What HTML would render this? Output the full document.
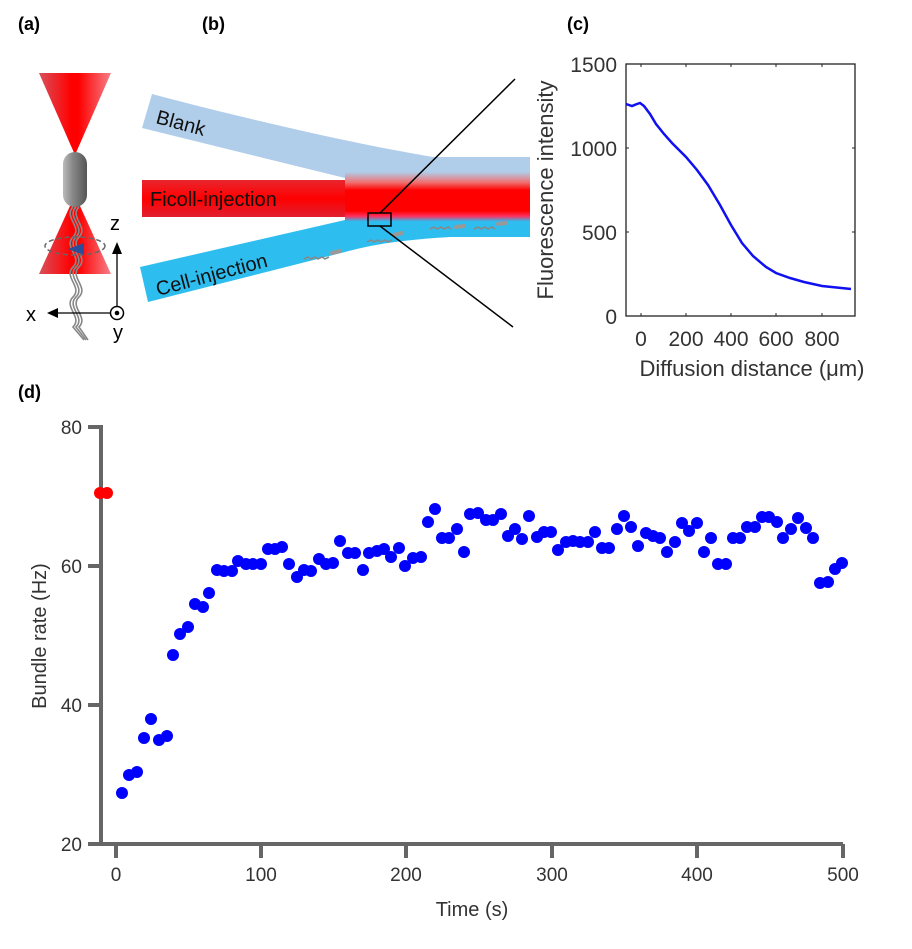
<!DOCTYPE html>
<html><head><meta charset="utf-8"><style>
html,body{margin:0;padding:0;background:#fff;}
svg{display:block;font-family:"Liberation Sans",Arial,sans-serif;}
</style></head><body>
<svg width="912" height="949" viewBox="0 0 912 949" xmlns="http://www.w3.org/2000/svg">
<defs>
<linearGradient id="beam" x1="0" x2="1" y1="0" y2="0">
<stop offset="0" stop-color="#d8505a"/><stop offset="0.45" stop-color="#ff0000"/><stop offset="0.55" stop-color="#ff0000"/><stop offset="1" stop-color="#f58088"/></linearGradient>
<linearGradient id="cap" x1="0" x2="1"><stop offset="0" stop-color="#bbb"/><stop offset="0.4" stop-color="#888"/><stop offset="1" stop-color="#555"/></linearGradient>
<linearGradient id="mix" x1="0" x2="0" y1="0" y2="1">
<stop offset="0" stop-color="#b0cde9"/><stop offset="0.2" stop-color="#f07070"/><stop offset="0.35" stop-color="#ff0000"/><stop offset="0.75" stop-color="#ff0000"/><stop offset="0.85" stop-color="#ff3060"/><stop offset="0.95" stop-color="#2ebdef"/><stop offset="1" stop-color="#2ebdef"/></linearGradient>
<linearGradient id="red" x1="0" x2="0" y1="0" y2="1"><stop offset="0" stop-color="#e8262e"/><stop offset="0.5" stop-color="#ff0000"/><stop offset="1" stop-color="#e02030"/></linearGradient>
</defs>
<g font-weight="bold" font-size="18" fill="#000">
<text x="18" y="30">(a)</text><text x="202" y="30">(b)</text><text x="567" y="30">(c)</text><text x="18" y="398">(d)</text>
</g>
<!-- panel a -->
<polygon points="39,73 111,73 75,155" fill="url(#beam)"/>
<polygon points="75,195 39,274 111,274" fill="url(#beam)"/>
<rect x="63" y="152" width="24" height="55" rx="12" fill="url(#cap)"/>
<g fill="none" stroke="#888" stroke-width="1.6">
<path d="M73,207 C63,217 83,227 73,237 C63,247 83,257 73,267 C63,277 83,287 73,297 C63,307 83,317 73,327 L84,340"/>
<path d="M76,207 C66,217 86,227 76,237 C66,247 86,257 76,267 C66,277 86,287 76,297 C66,307 86,317 76,327 L86,340"/>
<path d="M79,207 C69,217 89,227 79,237 C69,247 89,257 79,267 C69,277 89,287 79,297 C69,307 89,317 79,327 L88,340"/>
</g>
<ellipse cx="75" cy="246" rx="30" ry="9" fill="none" stroke="#666" stroke-width="1.5" stroke-dasharray="5,3"/>
<polygon points="68,249 84,243 84,255" fill="#2a4e9a"/>
<line x1="117" y1="314" x2="117" y2="252" stroke="#000" stroke-width="1.3"/>
<polygon points="117,242 112,254 122,254" fill="#000"/>
<line x1="117" y1="313" x2="56" y2="313" stroke="#000" stroke-width="1.3"/>
<polygon points="47,313 58,308 58,318" fill="#000"/>
<circle cx="117" cy="313" r="6.5" fill="#fff" stroke="#000" stroke-width="1.5"/>
<circle cx="117" cy="313" r="2.3" fill="#000"/>
<text x="110" y="230" font-size="20" fill="#000">z</text>
<text x="26" y="321" font-size="20" fill="#000">x</text>
<text x="113" y="339" font-size="20" fill="#000">y</text>
<!-- panel b -->
<path d="M152,94 C250,120 360,145 433,157 L530,157 L530,182 L345,178 L142,128 Z" fill="#b0cde9"/>
<path d="M140,267 L345,220 L530,218 L530,237 L450,237 C400,240 370,245 345,252 L148,302 Z" fill="#2ebdef"/>
<rect x="142" y="180" width="205" height="37" fill="url(#red)"/>
<rect x="345" y="172" width="185" height="52" fill="url(#mix)"/>
<g fill="none" stroke="#888" stroke-width="1.6">
<path d="M304,259 l4,-2 l3,2 l4,-2 l3,2 l4,-2 l3,2 l4,-2"/><path d="M367,242 l4,-2 l3,2 l4,-2 l3,2 l4,-2 l3,2 l4,-2"/>
<path d="M430,229 l4,-2 l3,2 l4,-2 l3,2 l4,-2 l3,2"/><path d="M474,229 l4,-2 l3,2 l4,-2 l3,2 l4,-2 l3,2"/>
</g>
<g stroke="#999" stroke-width="4" stroke-linecap="round"><line x1="332" y1="253" x2="340" y2="251"/><line x1="394" y1="235" x2="402" y2="233"/><line x1="456" y1="227" x2="464" y2="226"/><line x1="498" y1="224" x2="506" y2="223"/></g>
<text transform="translate(155,123) rotate(15)" font-size="20" fill="#111">Blank</text>
<text x="150" y="206" font-size="20" fill="#111">Ficoll-injection</text>
<text transform="translate(158,296) rotate(-15)" font-size="20" fill="#111">Cell-injection</text>
<rect x="368" y="213" width="23" height="13" fill="none" stroke="#000" stroke-width="1.5"/>
<line x1="380" y1="213" x2="515" y2="79" stroke="#000" stroke-width="1.5"/>
<line x1="380" y1="226" x2="513" y2="327" stroke="#000" stroke-width="1.5"/>
<!-- panel c -->
<rect x="626" y="64" width="229" height="252" fill="none" stroke="#222" stroke-width="1.3"/>
<g stroke="#222" stroke-width="1">
<line x1="641" y1="316" x2="641" y2="313"/><line x1="686" y1="316" x2="686" y2="313"/><line x1="731" y1="316" x2="731" y2="313"/><line x1="776" y1="316" x2="776" y2="313"/><line x1="822" y1="316" x2="822" y2="313"/>
<line x1="641" y1="64" x2="641" y2="67"/><line x1="686" y1="64" x2="686" y2="67"/><line x1="731" y1="64" x2="731" y2="67"/><line x1="776" y1="64" x2="776" y2="67"/><line x1="822" y1="64" x2="822" y2="67"/>
<line x1="626" y1="148" x2="629" y2="148"/><line x1="626" y1="232" x2="629" y2="232"/><line x1="855" y1="148" x2="852" y2="148"/><line x1="855" y1="232" x2="852" y2="232"/>
</g>
<g font-size="21" fill="#333" text-anchor="end">
<text x="617" y="72">1500</text><text x="617" y="156">1000</text><text x="617" y="240">500</text><text x="617" y="324">0</text>
</g>
<g font-size="21" fill="#333" text-anchor="middle">
<text x="641" y="346">0</text><text x="686" y="346">200</text><text x="731" y="346">400</text><text x="776" y="346">600</text><text x="822" y="346">800</text>
</g>
<text x="752" y="376" font-size="22" fill="#333" text-anchor="middle">Diffusion distance (μm)</text>
<text transform="translate(553,190) rotate(-90)" font-size="22" fill="#333" text-anchor="middle">Fluorescence intensity</text>
<polyline fill="none" stroke="#1010f0" stroke-width="2.5" points="626,104 632,106 637,104 640,103 644,106 650,114 656,124 664,134 672,143 686,157 697,170 708,185 720,205 731,225 742,243 753,256 766,267 776,273 790,278 804,282 822,286 851,289"/>
<!-- panel d -->
<g stroke="#666" stroke-width="4" fill="none">
<polyline points="88,427 101,427 101,844 88,844"/>
<line x1="101" y1="844" x2="843" y2="844"/>
<line x1="88" y1="566" x2="101" y2="566"/><line x1="88" y1="705" x2="101" y2="705"/>
<line x1="116" y1="844" x2="116" y2="858"/><line x1="261" y1="844" x2="261" y2="858"/><line x1="406" y1="844" x2="406" y2="858"/><line x1="552" y1="844" x2="552" y2="858"/><line x1="697" y1="844" x2="697" y2="858"/><line x1="843" y1="844" x2="843" y2="858"/>
</g>
<g font-size="19" fill="#333" text-anchor="end">
<text x="82" y="434">80</text><text x="82" y="573">60</text><text x="82" y="712">40</text><text x="82" y="851">20</text>
</g>
<g font-size="19" fill="#333" text-anchor="middle">
<text x="116" y="881">0</text><text x="261" y="881">100</text><text x="406" y="881">200</text><text x="552" y="881">300</text><text x="697" y="881">400</text><text x="843" y="881">500</text>
</g>
<text x="472" y="916" font-size="20" fill="#333" text-anchor="middle">Time (s)</text>
<text transform="translate(46,636) rotate(-90)" font-size="20" fill="#333" text-anchor="middle">Bundle rate (Hz)</text>
<g fill="#ff0000"><circle cx="100" cy="493" r="6"/><circle cx="107" cy="493" r="6"/></g>
<g fill="#0000ff">
<circle cx="122" cy="793" r="6"/><circle cx="129" cy="775" r="6"/><circle cx="137" cy="772" r="6"/><circle cx="144" cy="738" r="6"/><circle cx="151" cy="719" r="6"/><circle cx="159" cy="740" r="6"/><circle cx="167" cy="736" r="6"/><circle cx="173" cy="655" r="6"/><circle cx="180" cy="634" r="6"/><circle cx="188" cy="627" r="6"/><circle cx="195" cy="604" r="6"/><circle cx="203" cy="607" r="6"/><circle cx="209" cy="593" r="6"/><circle cx="217" cy="570" r="6"/><circle cx="224" cy="571" r="6"/><circle cx="232" cy="571" r="6"/><circle cx="238" cy="561" r="6"/><circle cx="246" cy="564" r="6"/><circle cx="253" cy="564" r="6"/><circle cx="261" cy="564" r="6"/><circle cx="268" cy="549" r="6"/><circle cx="275" cy="549" r="6"/><circle cx="282" cy="547" r="6"/><circle cx="289" cy="564" r="6"/><circle cx="297" cy="577" r="6"/><circle cx="304" cy="570" r="6"/><circle cx="311" cy="571" r="6"/><circle cx="319" cy="559" r="6"/><circle cx="326" cy="564" r="6"/><circle cx="333" cy="563" r="6"/><circle cx="340" cy="541" r="6"/><circle cx="348" cy="553" r="6"/><circle cx="355" cy="553" r="6"/><circle cx="363" cy="570" r="6"/><circle cx="369" cy="553" r="6"/><circle cx="377" cy="551" r="6"/><circle cx="384" cy="549" r="6"/><circle cx="391" cy="557" r="6"/><circle cx="399" cy="548" r="6"/><circle cx="405" cy="566" r="6"/><circle cx="413" cy="558" r="6"/><circle cx="421" cy="557" r="6"/><circle cx="428" cy="522" r="6"/><circle cx="435" cy="509" r="6"/><circle cx="442" cy="538" r="6"/><circle cx="449" cy="538" r="6"/><circle cx="457" cy="529" r="6"/><circle cx="464" cy="552" r="6"/><circle cx="470" cy="514" r="6"/><circle cx="478" cy="513" r="6"/><circle cx="486" cy="520" r="6"/><circle cx="493" cy="520" r="6"/><circle cx="501" cy="514" r="6"/><circle cx="508" cy="536" r="6"/><circle cx="515" cy="529" r="6"/><circle cx="522" cy="539" r="6"/><circle cx="529" cy="516" r="6"/><circle cx="537" cy="537" r="6"/><circle cx="544" cy="532" r="6"/><circle cx="551" cy="532" r="6"/><circle cx="558" cy="550" r="6"/><circle cx="566" cy="542" r="6"/><circle cx="573" cy="541" r="6"/><circle cx="580" cy="542" r="6"/><circle cx="588" cy="542" r="6"/><circle cx="595" cy="532" r="6"/><circle cx="602" cy="548" r="6"/><circle cx="609" cy="548" r="6"/><circle cx="617" cy="529" r="6"/><circle cx="624" cy="516" r="6"/><circle cx="631" cy="527" r="6"/><circle cx="638" cy="546" r="6"/><circle cx="646" cy="533" r="6"/><circle cx="653" cy="536" r="6"/><circle cx="660" cy="538" r="6"/><circle cx="667" cy="552" r="6"/><circle cx="675" cy="542" r="6"/><circle cx="682" cy="523" r="6"/><circle cx="689" cy="531" r="6"/><circle cx="697" cy="523" r="6"/><circle cx="704" cy="552" r="6"/><circle cx="711" cy="538" r="6"/><circle cx="718" cy="564" r="6"/><circle cx="726" cy="564" r="6"/><circle cx="733" cy="538" r="6"/><circle cx="740" cy="538" r="6"/><circle cx="747" cy="527" r="6"/><circle cx="755" cy="527" r="6"/><circle cx="762" cy="517" r="6"/><circle cx="769" cy="517" r="6"/><circle cx="777" cy="522" r="6"/><circle cx="783" cy="538" r="6"/><circle cx="791" cy="529" r="6"/><circle cx="798" cy="518" r="6"/><circle cx="806" cy="528" r="6"/><circle cx="813" cy="538" r="6"/><circle cx="820" cy="583" r="6"/><circle cx="828" cy="582" r="6"/><circle cx="835" cy="569" r="6"/><circle cx="842" cy="563" r="6"/>
</g>
</svg>
</body></html>
